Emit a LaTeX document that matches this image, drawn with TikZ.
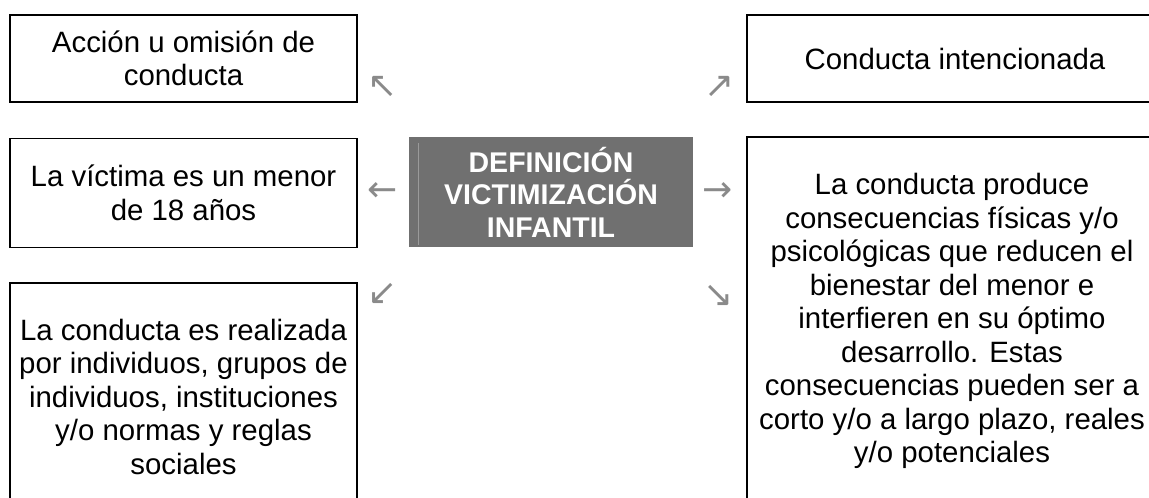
\documentclass[tikz,border=0pt]{standalone}
\usepackage{fontspec}
\setmainfont{Liberation Sans}
\newfontfamily\arrowfont{DejaVu Sans}
\usetikzlibrary{calc}
\definecolor{centergray}{HTML}{707070}
\definecolor{stripegray}{HTML}{9A9A9A}
\definecolor{arrowgray}{HTML}{8A8A8A}
\begin{document}
\begin{tikzpicture}[x=1pt,y=-1pt,
  box/.style={draw=black, line width=1.9pt, fill=white, rectangle, inner sep=0pt,
    align=center, font=\fontsize{29.4}{33.5}\selectfont},
  centerbox/.style={fill=centergray, rectangle, inner sep=0pt, align=center,
    text=white, font=\fontsize{28.5}{32.5}\selectfont\bfseries},
  glyph/.style={text=arrowgray, inner sep=0pt, font=\arrowfont\fontsize{36}{36}\selectfont}]
\useasboundingbox (0,0) rectangle (1149,498);
\clip (0,0) rectangle (1149,498);

% left column
\node[box, minimum width=347pt, minimum height=87pt] (accion) at (183.5,58.5)
  {Acción u omisión de\\conducta};
\node[box, minimum width=347pt, minimum height=109pt] (victima) at (183.5,193)
  {La víctima es un menor\\de 18 años};
\node[box, minimum width=347pt, minimum height=227pt] (realizada) at (183.5,396.5)
  {La conducta es realizada\\por individuos, grupos de\\individuos, instituciones\\y/o normas y reglas\\sociales};

% right column
\node[box, minimum width=416pt, minimum height=87pt] (intencionada) at (955,58.5)
  {Conducta intencionada};
\node[box, minimum width=410pt, minimum height=368pt] (consecuencias) at (952,321)
  {La conducta produce\\consecuencias físicas y/o\\psicológicas que reducen el\\bienestar del menor e\\interfieren en su óptimo\\desarrollo. Estas\\consecuencias pueden ser a\\corto y/o a largo plazo, reales\\y/o potenciales};

% center
\node[centerbox, minimum width=284pt, minimum height=110pt] (centro) at (551,192)
  {DEFINICIÓN\\VICTIMIZACIÓN\\INFANTIL};
\draw[stripegray, line width=0.8pt]
  ($(centro.north west)+(10,6)$) -- ($(centro.south west)+(10,-2)$);

% arrow glyphs
\node[glyph] (aNW) at (383,87) {↖};
\node[glyph] (aNE) at (720,87) {↗};
\node[glyph] (aW) at (383,192) {←};
\node[glyph] (aE) at (718,192) {→};
\node[glyph] (aSW) at (383,294) {↙};
\node[glyph] (aSE) at (719,296) {↘};
\end{tikzpicture}
\end{document}
